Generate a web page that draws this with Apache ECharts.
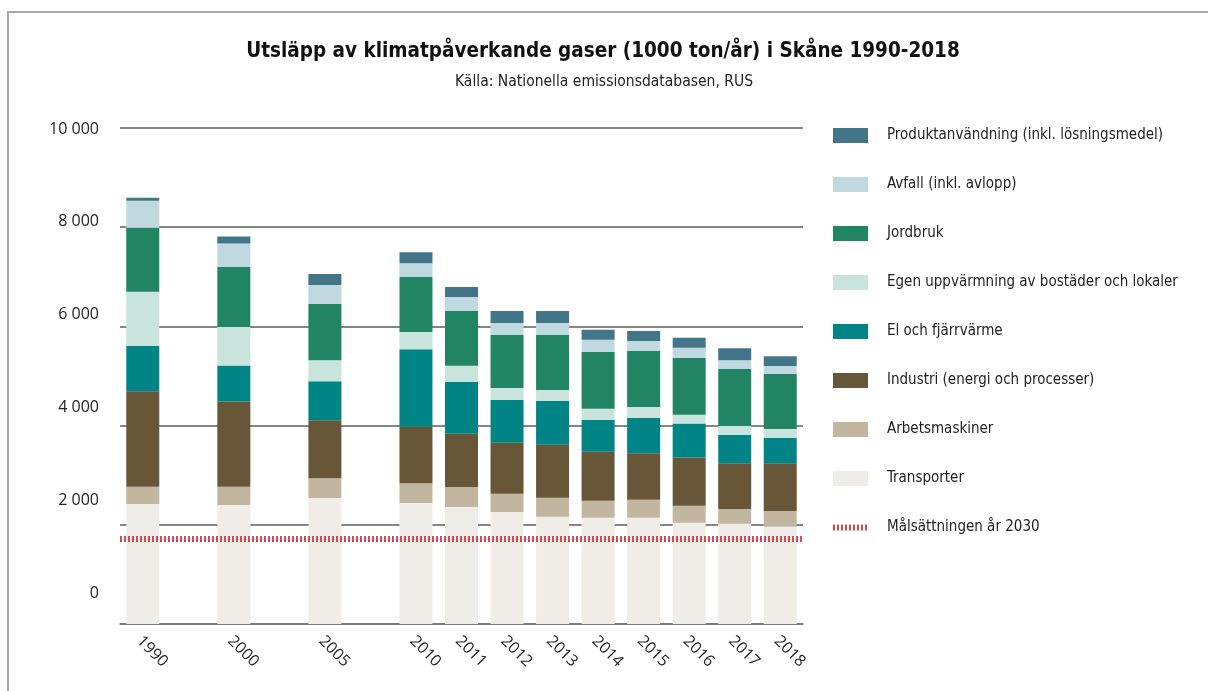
<!DOCTYPE html>
<html>
<head>
<meta charset="utf-8">
<title>Utsläpp Skåne 1990-2018</title>
<script src="https://cdn.jsdelivr.net/npm/echarts@6/dist/echarts.min.js"></script>
<style>
  html, body { margin: 0; padding: 0; background: #fff; }
  #chart { width: 1208px; height: 691px; }
</style>
</head>
<body>
<div id="chart"></div>
<script>
// kategorier (tomma platser ger luckorna mellan 1990, 2000, 2005 och 2010)
var years = ['1990', '', '2000', '', '2005', '', '2010', '2011', '2012', '2013', '2014', '2015', '2016', '2017', '2018'];

// 1000 ton/år
var transporter   = [2420, null, 2400, null, 2540, null, 2440, 2360, 2260, 2160, 2140, 2140, 2040, 2020, 1960];
var arbetsmaskiner = [345, null, 365, null, 400, null, 400, 400, 365, 385, 345, 365, 345, 300, 320];
var industri      = [1930, null, 1720, null, 1170, null, 1135, 1075, 1030, 1070, 990, 940, 970, 920, 960];
var elFjarrvarme  = [915, null, 725, null, 785, null, 1565, 1045, 865, 885, 645, 710, 685, 570, 510];
var egenUppv      = [1090, null, 780, null, 425, null, 345, 325, 240, 220, 220, 220, 180, 180, 180];
var jordbruk      = [1290, null, 1215, null, 1130, null, 1110, 1110, 1070, 1110, 1150, 1130, 1150, 1150, 1110];
var avfall        = [545, null, 465, null, 385, null, 280, 280, 240, 240, 240, 200, 200, 180, 160];
var produkt       = [60, null, 140, null, 220, null, 220, 200, 240, 240, 200, 200, 200, 240, 200];
var malsattning2030 = 1725;

var yTicks = [0, 2000, 4000, 6000, 8000, 10000];

var chart = echarts.init(document.getElementById('chart'));

var NARROW = '"Liberation Sans Narrow", "DejaVu Sans Condensed", sans-serif';
var PLAIN = '"Open Sans", "Noto Sans", sans-serif';
var TARGET_RED = '#d24a52';
var TARGET_LINE = { color: TARGET_RED, width: 6, type: [2, 2] };

function barSeries(name, data, color){
  return {
    name: name,
    type: 'bar',
    stack: 'total',
    barWidth: 33,
    data: data,
    itemStyle: { color: color },
    emphasis: { disabled: true }
  };
}

var option = {
  animation: false,
  backgroundColor: '#fff',
  title: [
    {
      text: 'Utsläpp av klimatpåverkande gaser (1000 ton/år) i Skåne 1990-2018',
      left: 598, top: 36, textAlign: 'center',
      textStyle: { fontFamily: NARROW, fontSize: 20.5, fontWeight: 'bold', color: '#111' }
    },
    {
      text: 'Källa: Nationella emissionsdatabasen, RUS',
      left: 599, top: 69, textAlign: 'center',
      textStyle: { fontFamily: NARROW, fontSize: 15.5, fontWeight: 'normal', color: '#222' }
    }
  ],
  legend: {
    orient: 'vertical',
    left: 830,
    top: 128,
    padding: 0,
    itemWidth: 35,
    itemHeight: 15,
    itemGap: 34,
    selectedMode: false,
    textStyle: { fontFamily: NARROW, fontSize: 15, lineHeight: 15, color: '#222', padding: [0, 0, 0, 14] },
    data: [
      { name: 'Produktanvändning (inkl. lösningsmedel)', icon: 'rect' },
      { name: 'Avfall (inkl. avlopp)', icon: 'rect' },
      { name: 'Jordbruk', icon: 'rect' },
      { name: 'Egen uppvärmning av bostäder och lokaler', icon: 'rect' },
      { name: 'El och fjärrvärme', icon: 'rect' },
      { name: 'Industri (energi och processer)', icon: 'rect' },
      { name: 'Arbetsmaskiner', icon: 'rect' },
      { name: 'Transporter', icon: 'rect' },
      {
        name: 'Målsättningen år 2030',
        itemStyle: { color: 'transparent', borderWidth: 0, opacity: 0 },
        lineStyle: TARGET_LINE
      }
    ]
  },
  grid: [
    { left: 120, width: 683, top: 128, height: 496 },
    // andra griden bär bara y-etiketterna, som i originalet sitter lite förskjutna
    { left: 120, width: 683, top: 129, height: 464 }
  ],
  xAxis: [
    {
      type: 'category',
      gridIndex: 0,
      data: years,
      axisLine: { lineStyle: { color: '#777', width: 1.5 } },
      axisTick: { show: false },
      axisLabel: {
        interval: 0, rotate: -45, margin: 18,
        padding: [9, 0, 0, -5],
        fontFamily: PLAIN, fontSize: 16, color: '#222'
      }
    },
    { type: 'category', gridIndex: 1, data: years, show: false }
  ],
  yAxis: [
    {
      type: 'value',
      gridIndex: 0,
      min: 0, max: 10000, interval: 2000,
      axisLine: { show: false },
      axisTick: { show: false },
      axisLabel: { show: false },
      splitLine: { lineStyle: { color: '#5c5c5c', width: 1.5 } }
    },
    {
      type: 'value',
      gridIndex: 1,
      min: yTicks[0], max: yTicks[yTicks.length - 1], interval: 2000,
      axisLine: { show: false },
      axisTick: { show: false },
      splitLine: { show: false },
      axisLabel: {
        margin: 21, fontFamily: PLAIN, fontSize: 16, color: '#222',
        formatter: function(v){
          return String(v).replace(/\B(?=(\d{3})+(?!\d))/g, ' ');
        }
      }
    }
  ],
  series: [
    barSeries('Transporter', transporter, '#f0ede8'),
    barSeries('Arbetsmaskiner', arbetsmaskiner, '#c2b6a0'),
    barSeries('Industri (energi och processer)', industri, '#675637'),
    barSeries('El och fjärrvärme', elFjarrvarme, '#008486'),
    barSeries('Egen uppvärmning av bostäder och lokaler', egenUppv, '#c9e4dc'),
    barSeries('Jordbruk', jordbruk, '#218563'),
    barSeries('Avfall (inkl. avlopp)', avfall, '#c0d9e0'),
    barSeries('Produktanvändning (inkl. lösningsmedel)', produkt, '#427587'),
    {
      name: 'Målsättningen år 2030',
      type: 'line',
      data: [],
      symbol: 'none',
      itemStyle: { color: TARGET_RED },
      lineStyle: TARGET_LINE,
      markLine: {
        silent: true,
        symbol: 'none',
        label: { show: false },
        lineStyle: TARGET_LINE,
        data: [{ yAxis: malsattning2030 }]
      },
      z: 5
    }
  ],
  graphic: [
    {
      type: 'polyline',
      shape: { points: [[8, 691], [8, 12], [1208, 12]] },
      style: { stroke: '#a8a8a8', lineWidth: 2, fill: null },
      silent: true
    }
  ]
};

chart.setOption(option);
</script>
</body>
</html>
